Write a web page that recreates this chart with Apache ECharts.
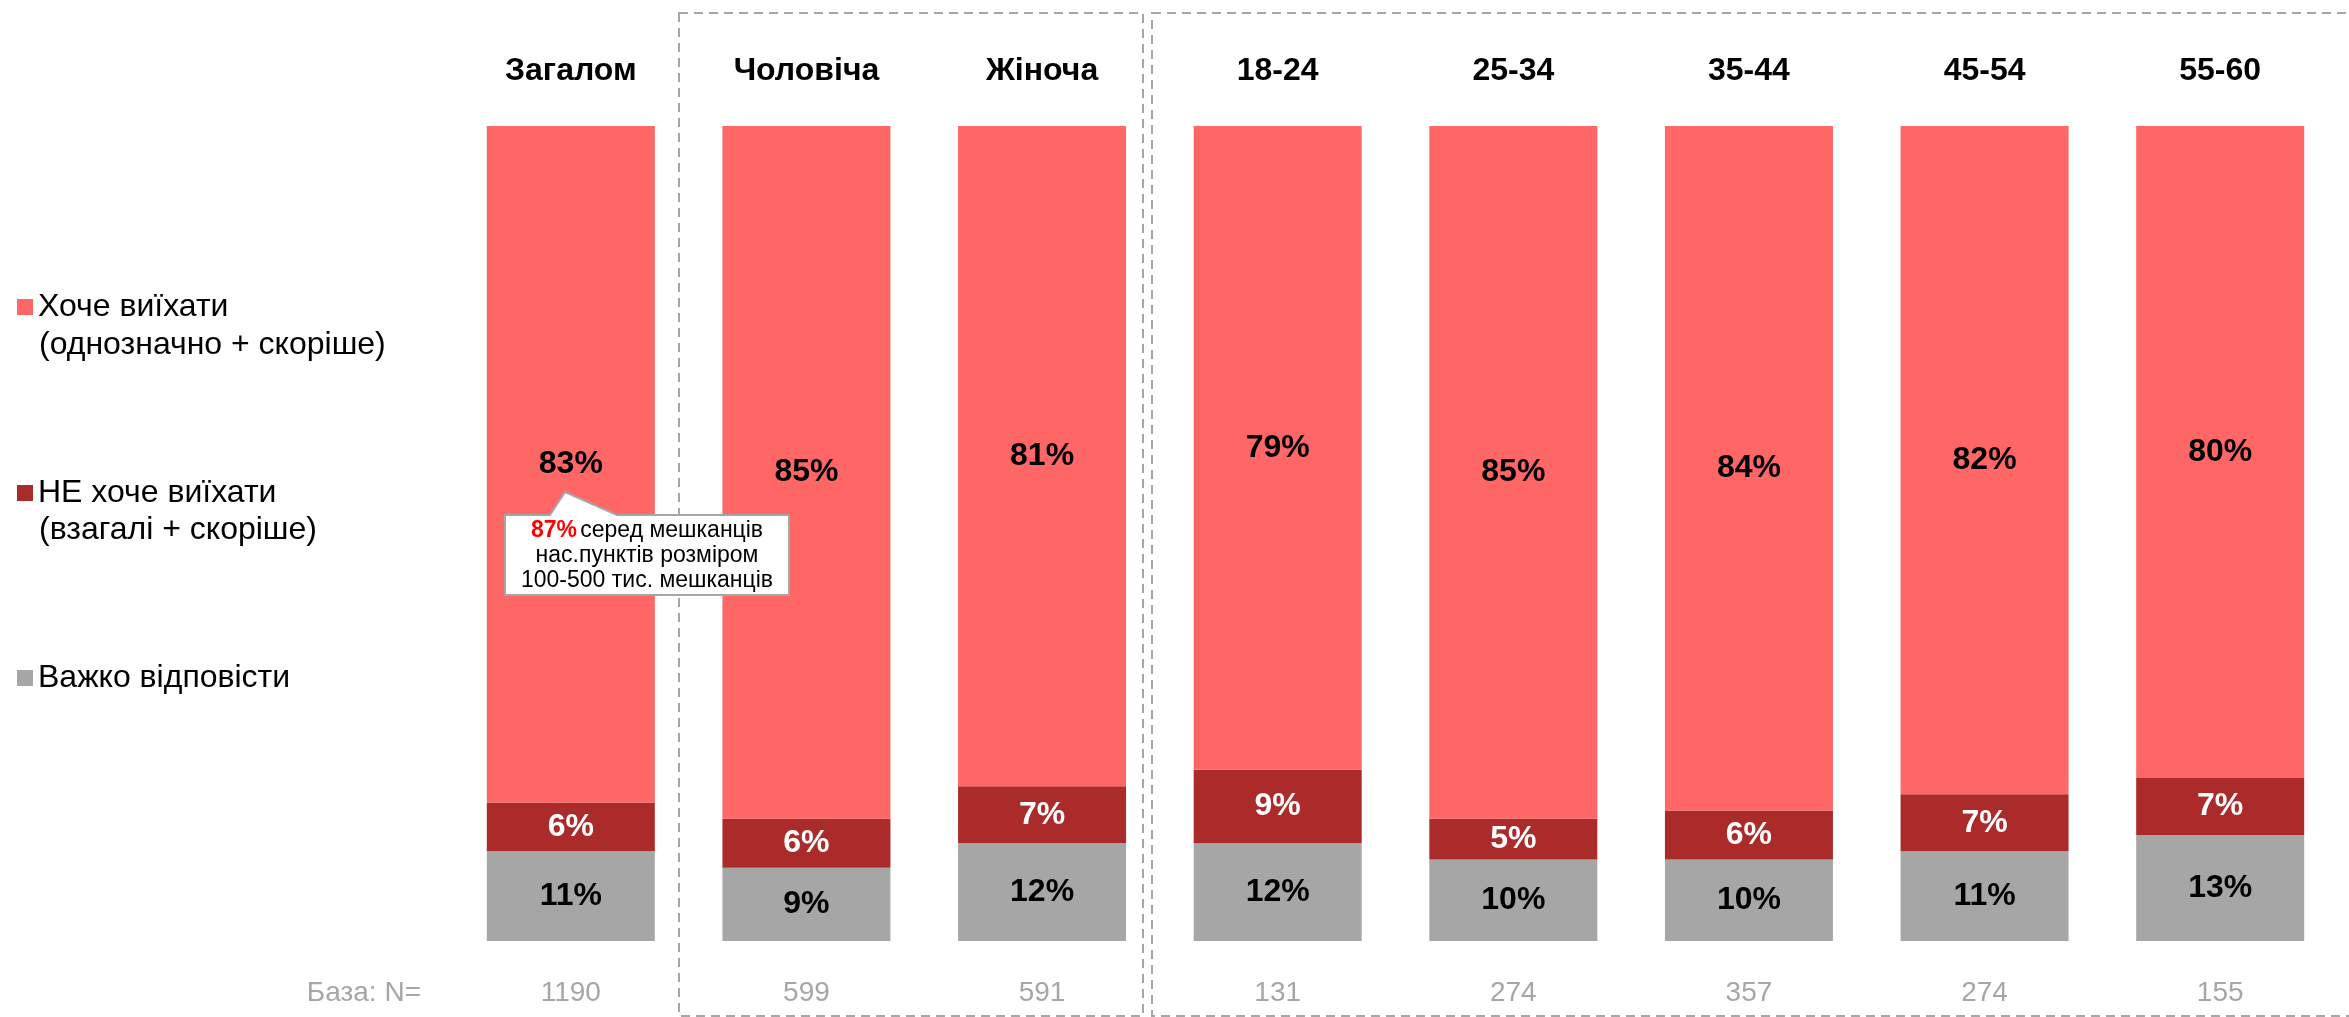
<!DOCTYPE html>
<html lang="uk">
<head>
    <meta charset="UTF-8">
    <title>Хоче виїхати</title>
    <script src="https://cdn.jsdelivr.net/npm/echarts@6/dist/echarts.min.js"></script>
    <style>
        html, body { margin: 0; padding: 0; background: #fff; }
    </style>
</head>
<body>

<div id="main" style="width: 2349px;height:1017px;"></div>

<script type="text/javascript">
    // групи (категорії)
    var categories = ['Загалом', 'Чоловіча', 'Жіноча', '18-24', '25-34', '35-44', '45-54', '55-60'];
    // база N по кожній групі
    var baseN = [1190, 599, 591, 131, 274, 357, 274, 155];
    // відсотки
    var want = [83, 85, 81, 79, 85, 84, 82, 80];
    var notWant = [6, 6, 7, 9, 5, 6, 7, 7];
    var hard = [11, 9, 12, 12, 10, 10, 11, 13];

    var names = ['Хоче виїхати', 'НЕ хоче виїхати', 'Важко відповісти'];
    var subNames = ['(однозначно + скоріше)', '(взагалі + скоріше)'];

    var FONT = 'Arial, "Liberation Sans", sans-serif';
    var RED = '#ff6666', DARK = '#ab2a2a', GREY = '#a6a6a6';

    var myChart = echarts.init(document.getElementById('main'));

    function seg(name, data, color, labelColor) {
        return {
            name: name,
            type: 'bar',
            stack: 'all',
            barWidth: 168,
            data: data,
            itemStyle: { color: color },
            label: {
                show: true,
                position: 'inside',
                formatter: '{c}%',
                color: labelColor,
                fontFamily: FONT,
                fontWeight: 'bold',
                fontSize: 32
            }
        };
    }

    function legendItem(name, y) {
        return {
            data: [name],
            left: 17,
            top: y - 19,
            padding: 0,
            itemWidth: 16,
            itemHeight: 16,
            icon: 'rect',
            selectedMode: false,
            textStyle: { fontFamily: FONT, fontSize: 32, color: '#000', lineHeight: 38 }
        };
    }

    var dash = { stroke: GREY, lineWidth: 2, lineDash: [9, 6], fill: null };

    var option = {
        animation: false,
        legend: [
            legendItem(names[0], 307),
            legendItem(names[1], 493),
            legendItem(names[2], 678)
        ],
        grid: { left: 453, right: 11, top: 126, bottom: 76 },
        xAxis: [
            {
                type: 'category',
                position: 'top',
                data: categories,
                axisLine: { show: false },
                axisTick: { show: false },
                axisLabel: {
                    margin: 55,
                    verticalAlign: 'middle',
                    fontFamily: FONT,
                    fontWeight: 'bold',
                    fontSize: 32,
                    color: '#000'
                }
            },
            {
                type: 'category',
                position: 'bottom',
                data: baseN,
                axisLine: { show: false },
                axisTick: { show: false },
                axisLabel: {
                    margin: 52,
                    verticalAlign: 'middle',
                    fontFamily: FONT,
                    fontSize: 28,
                    color: GREY
                }
            }
        ],
        yAxis: { type: 'value', min: 0, max: 100, show: false },
        series: [
            seg(names[2], hard, GREY, '#000'),
            seg(names[1], notWant, DARK, '#fff'),
            seg(names[0], want, RED, '#000')
        ],
        graphic: [
            // пунктирні рамки груп
            { type: 'rect', z: 0, shape: { x: 679, y: 13, width: 464, height: 1003 }, style: dash },
            { type: 'rect', z: 0, shape: { x: 1152, y: 13, width: 1210, height: 1003 }, style: dash },
            // другі рядки легенди
            { type: 'text', left: 39, top: 345 - 19,
              style: { text: subNames[0], fontFamily: FONT, fontSize: 32, fill: '#000', lineHeight: 38 } },
            { type: 'text', left: 39, top: 530 - 19,
              style: { text: subNames[1], fontFamily: FONT, fontSize: 32, fill: '#000', lineHeight: 38 } },
            // База
            { type: 'text', x: 421, y: 993,
              style: { text: 'База: N=', align: 'right', verticalAlign: 'middle', fontFamily: FONT, fontSize: 28, fill: GREY } },
            // виноска
            { type: 'polygon', z: 100,
              shape: { points: [[505, 515], [550, 515], [565, 492], [617, 515], [789, 515], [789, 595], [505, 595]] },
              style: { fill: '#fff', stroke: GREY, lineWidth: 2 } },
            { type: 'text', z: 101, x: 647, y: 556,
              style: {
                  text: '{r|87%} {n|серед мешканців}\n{n|нас.пунктів розміром}\n{n|100-500 тис. мешканців}',
                  align: 'center', verticalAlign: 'middle',
                  rich: {
                      r: { fontFamily: FONT, fontSize: 23, fontWeight: 'bold', fill: '#ff0000', lineHeight: 25 },
                      n: { fontFamily: FONT, fontSize: 23, fill: '#000', lineHeight: 25 }
                  }
              } }
        ]
    };

    myChart.setOption(option);
</script>
</body>
</html>
